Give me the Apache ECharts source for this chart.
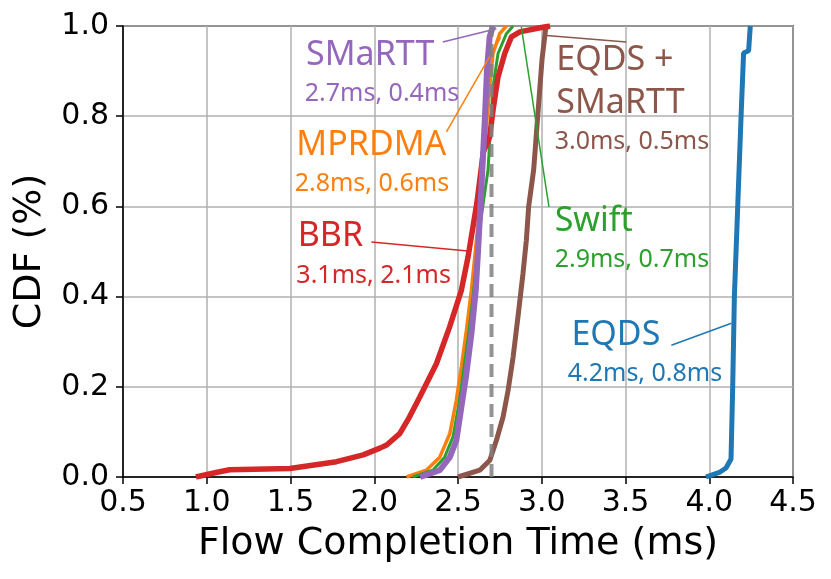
<!DOCTYPE html>
<html>
<head>
<meta charset="UTF-8">
<title>Flow Completion Time CDF</title>
<script src="https://cdn.jsdelivr.net/npm/echarts@6/dist/echarts.min.js"></script>
</head>
<body style="margin:0">
<div id="main" style="width:831px;height:579px;"></div>
<script type="text/javascript">
// CDF curves: [flow completion time (ms), CDF]
var eqds = [[3.98, 0], [4.06, 0.01], [4.10, 0.02], [4.13, 0.04], [4.14, 0.2], [4.15, 0.4],
  [4.17, 0.6], [4.19, 0.8], [4.205, 0.94], [4.235, 0.945], [4.245, 1.0]];
var eqdsSmartt = [[2.5, 0], [2.63, 0.015], [2.69, 0.037], [2.729, 0.081], [2.769, 0.133],
  [2.799, 0.192], [2.829, 0.266], [2.858, 0.355], [2.888, 0.451], [2.908, 0.525],
  [2.922, 0.6], [2.952, 0.682], [2.982, 0.83], [3.002, 0.927], [3.022, 0.99], [3.03, 1.0]];
var mprdma = [[2.192, 0], [2.311, 0.015], [2.391, 0.044], [2.451, 0.096], [2.49, 0.17],
  [2.52, 0.244], [2.55, 0.325], [2.58, 0.414], [2.61, 0.525], [2.633, 0.608],
  [2.673, 0.793], [2.689, 0.865], [2.709, 0.939], [2.749, 0.983], [2.789, 1.0]];
var swift = [[2.23, 0], [2.35, 0.015], [2.42, 0.044], [2.47, 0.089], [2.506, 0.163],
  [2.536, 0.244], [2.566, 0.325], [2.594, 0.414], [2.62, 0.525], [2.651, 0.608],
  [2.679, 0.68], [2.709, 0.865], [2.739, 0.939], [2.789, 0.983], [2.829, 1.0]];
var bbr = [[0.935, 0], [1.056, 0.01], [1.136, 0.016], [1.496, 0.019], [1.775, 0.034],
  [1.934, 0.049], [2.034, 0.064], [2.074, 0.071], [2.152, 0.096], [2.21, 0.133],
  [2.271, 0.177], [2.371, 0.251], [2.45, 0.333], [2.52, 0.414], [2.56, 0.488],
  [2.613, 0.608], [2.651, 0.72], [2.689, 0.754], [2.709, 0.813], [2.739, 0.887],
  [2.779, 0.939], [2.819, 0.976], [2.869, 0.987], [2.99, 0.996], [3.05, 1.0]];
var smartt = [[2.274, 0], [2.391, 0.015], [2.451, 0.044], [2.49, 0.081], [2.52, 0.155],
  [2.55, 0.229], [2.58, 0.318], [2.606, 0.414], [2.62, 0.503], [2.64, 0.643],
  [2.66, 0.791], [2.673, 0.902], [2.689, 0.976], [2.709, 1.0]];
var refLine = [[2.7, 0], [2.7, 1.0]];

var xTicks = [0.5, 1.0, 1.5, 2.0, 2.5, 3.0, 3.5, 4.0, 4.5];
var yTicks = [0.0, 0.2, 0.4, 0.6, 0.8, 1.0];

// annotation texts: [text, x, y, size]
var labelSmartt = [['SMaRTT', 1.593, 0.935, 34], ['2.7ms, 0.4ms', 1.585, 0.85, 25]];
var labelMprdma = [['MPRDMA', 1.535, 0.7355, 34], ['2.8ms, 0.6ms', 1.525, 0.6506, 25]];
var labelBbr = [['BBR', 1.543, 0.5326, 34], ['3.1ms, 2.1ms', 1.535, 0.445, 25]];
var labelEqdsSmartt = [['EQDS +', 3.087, 0.924, 34], ['SMaRTT', 3.087, 0.828, 34], ['3.0ms, 0.5ms', 3.077, 0.743, 25]];
var labelSwift = [['Swift', 3.077, 0.568, 34], ['2.9ms, 0.7ms', 3.077, 0.4805, 25]];
var labelEqds = [['EQDS', 3.177, 0.314, 34], ['4.2ms, 0.8ms', 3.155, 0.229, 25]];

// pointer lines from text to curve
var ptrSmartt = [[2.409, 0.9645], [2.729, 0.994]];
var ptrMprdma = [[2.431, 0.765], [2.755, 0.975]];
var ptrBbr = [[1.983, 0.521], [2.56, 0.501]];
var ptrEqdsSmartt = [[3.028, 0.979], [3.505, 0.9645]];
var ptrSwift = [[2.878, 0.998], [3.043, 0.599]];
var ptrEqds = [[3.774, 0.292], [4.132, 0.341]];

var C = {
  blue: '#1f77b4', orange: '#ff7f0e', green: '#2ca02c',
  red: '#d62728', purple: '#9467bd', brown: '#8c564b'
};

function curve(name, data, color, width) {
  return {
    name: name, type: 'line', data: data, showSymbol: false, symbol: 'none',
    lineStyle: { color: color, width: width }, silent: true
  };
}
function pointer(data, color) {
  return {
    type: 'line', data: data, showSymbol: false, symbol: 'none',
    lineStyle: { color: color, width: 1.5 }, silent: true, z: 5
  };
}
function labels(items, color) {
  return {
    type: 'scatter', symbolSize: 0, silent: true, z: 6,
    itemStyle: { opacity: 1 },
    data: items.map(function (d) {
      return {
        value: [d[1], d[2]],
        label: {
          show: true, position: 'inside', align: 'left', verticalAlign: 'middle',
          formatter: d[0], color: color, opacity: 1, fontSize: d[3], fontFamily: 'Noto Sans'
        }
      };
    })
  };
}

var myChart = echarts.init(document.getElementById('main'));
var axisFont = { color: '#000', fontSize: 30, fontFamily: 'DejaVu Sans' };
var nameFont = { color: '#000', fontSize: 38, fontFamily: 'DejaVu Sans' };

var option = {
  animation: false,
  grid: { left: 123, right: 38, top: 26, bottom: 102, show: true, borderColor: '#000', borderWidth: 1.5 },
  xAxis: {
    type: 'value', min: xTicks[0], max: xTicks[xTicks.length - 1], interval: 0.5,
    name: 'Flow Completion Time (ms)', nameLocation: 'middle', nameGap: 48,
    nameTextStyle: nameFont,
    axisLine: { lineStyle: { color: '#000', width: 1.5 } },
    axisTick: { length: 7, lineStyle: { color: '#000', width: 1.5 } },
    axisLabel: Object.assign({ margin: 11, formatter: function (v) { return v.toFixed(1); } }, axisFont),
    splitLine: { lineStyle: { color: '#b0b0b0', width: 1.5 } }
  },
  yAxis: {
    type: 'value', min: yTicks[0], max: yTicks[yTicks.length - 1], interval: 0.2,
    name: 'CDF (%)', nameLocation: 'middle', nameGap: 74,
    nameTextStyle: nameFont,
    axisLine: { lineStyle: { color: '#000', width: 1.5 } },
    axisTick: { length: 7, lineStyle: { color: '#000', width: 1.5 } },
    axisLabel: Object.assign({ margin: 14, formatter: function (v) { return v.toFixed(1); } }, axisFont),
    splitLine: { lineStyle: { color: '#b0b0b0', width: 1.5 } }
  },
  series: [
    curve('EQDS', eqds, C.blue, 5),
    curve('EQDS + SMaRTT', eqdsSmartt, C.brown, 5),
    curve('MPRDMA', mprdma, C.orange, 3.5),
    curve('Swift', swift, C.green, 3),
    curve('BBR', bbr, C.red, 5.5),
    curve('SMaRTT', smartt, C.purple, 6),
    pointer(ptrSmartt, C.purple), pointer(ptrMprdma, C.orange), pointer(ptrBbr, C.red),
    pointer(ptrEqdsSmartt, C.brown), pointer(ptrSwift, C.green), pointer(ptrEqds, C.blue),
    labels(labelSmartt, C.purple), labels(labelMprdma, C.orange), labels(labelBbr, C.red),
    labels(labelEqdsSmartt, C.brown), labels(labelSwift, C.green), labels(labelEqds, C.blue),
    {
      type: 'line', data: refLine, showSymbol: false, symbol: 'none', silent: true, z: 20,
      lineStyle: { color: 'rgba(128,128,128,0.85)', width: 4, type: [13, 7] }
    }
  ]
};
myChart.setOption(option);
</script>
</body>
</html>
